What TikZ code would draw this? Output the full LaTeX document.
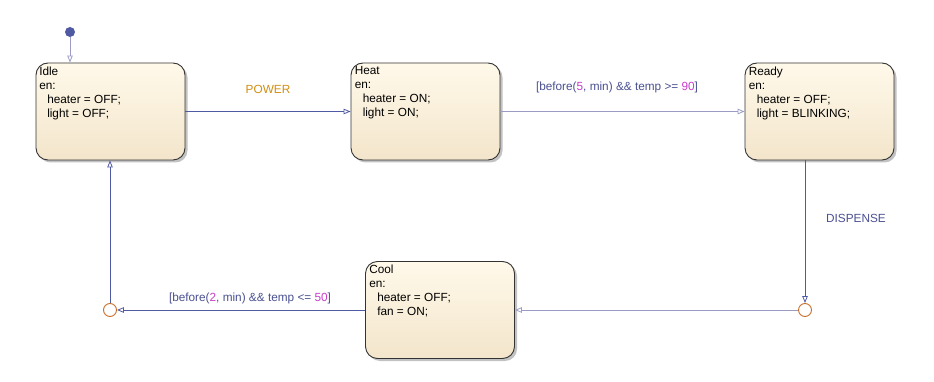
\documentclass[tikz,border=0pt]{standalone}
\usepackage{fontspec}
\setmainfont{Liberation Sans}
\usetikzlibrary{arrows.meta,shadows}
\definecolor{wire}{HTML}{4F5AA2}
\definecolor{wirelt}{HTML}{9A9CC4}
\definecolor{guard}{HTML}{4A5090}
\definecolor{num}{HTML}{C83CC8}
\definecolor{evt}{HTML}{D18E12}
\definecolor{junc}{HTML}{C8702A}
\definecolor{edge}{HTML}{333333}
\definecolor{sttop}{HTML}{FFF9EA}
\definecolor{stbot}{HTML}{F3E5CB}
\tikzset{
  state/.style={draw=edge, line width=0.9pt, rounded corners=12pt, top color=sttop, bottom color=stbot,
                minimum width=149pt, minimum height=97pt, inner sep=0pt,
                drop shadow={shadow xshift=2.5pt, shadow yshift=-2.5pt, fill=black!40, opacity=0.6}},
  body/.style={anchor=north west, align=left, inner sep=0pt, font=\fontsize{11.8}{14}\selectfont},
  trans/.style={wire, line width=0.8pt, -{Triangle[open, length=7pt, width=5.5pt]}},
  junction/.style={circle, draw=junc, fill=white, line width=0.9pt, minimum size=13pt, inner sep=0pt},
  lbl/.style={font=\fontsize{11.8}{14}\selectfont, text=guard},
}
\newcommand{\ind}{\hspace*{8pt}}
\newcommand{\nm}[1]{\textcolor{num}{#1}}
\begin{document}
\begin{tikzpicture}[x=1pt, y=-1pt]
  \useasboundingbox (0,0) rectangle (934,382);

  % states
  \foreach \n/\x/\y in {idle/110.5/111.5, heat/425.5/111.5, ready/819.5/111.5, cool/440/310}
    \node[state] (\n) at (\x,\y) {};
  \node[body] (idletxt) at ([shift={(3.5,4)}]idle.north west) {Idle\\en:\\\ind heater = OFF;\\\ind light = OFF;};
  \node[body] (heattxt) at ([shift={(4,4)}]heat.north west) {Heat\\en:\\\ind heater = ON;\\\ind light = ON;};
  \node[body] (readytxt) at ([shift={(4,4)}]ready.north west) {Ready\\en:\\\ind heater = OFF;\\\ind light = BLINKING;};
  \node[body] (cooltxt) at ([shift={(4,4)}]cool.north west) {Cool\\en:\\\ind heater = OFF;\\\ind fan = ON;};

  % default transition and junctions
  \node[circle, fill=wire, minimum size=10pt, inner sep=0pt] (init) at (70,32) {};
  \node[junction] (jready) at (805,310) {};
  \node[junction] (jidle) at (110,310) {};

  % transitions
  \draw[trans, wirelt] (init) -- (init |- idle.north);
  \draw[trans] (idle.east) -- (heat.west);
  \draw[trans, wirelt] (heat.east) -- (ready.west);
  \draw[trans] (jready |- ready.south) -- (jready.north);
  \draw[trans, wirelt] (jready.west) -- (cool.east);
  \draw[trans] (cool.west) -- (jidle.east);
  \draw[trans] (jidle.north) -- (jidle |- idle.south);

  % labels
  \node[lbl, text=evt] (power) at (268,89) {POWER};
  \node[lbl] (g1) at (617,87) {[before(\nm{5}, min) \&\& temp >= \nm{90}]};
  \node[lbl] (dispense) at (856,218) {DISPENSE};
  \node[lbl] (g2) at (250,298) {[before(\nm{2}, min) \&\& temp <= \nm{50}]};
\end{tikzpicture}
\end{document}
